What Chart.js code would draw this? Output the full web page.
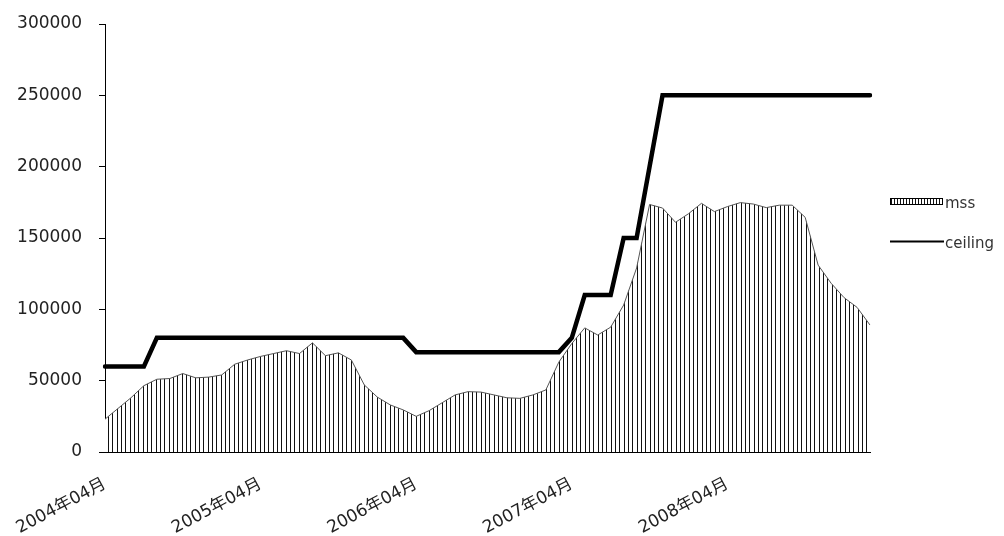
<!DOCTYPE html>
<html>
<head>
<meta charset="utf-8">
<script src="https://cdn.jsdelivr.net/npm/chart.js@4.4.1/dist/chart.umd.min.js"></script>
<style>
  html, body { margin: 0; padding: 0; background: #fff; }
  #wrap { width: 1004px; height: 536px; position: relative; }
</style>
</head>
<body>
<div id="wrap"><canvas id="c" width="1004" height="536"></canvas></div>
<script>
// Monthly categories, April 2004 through March 2009
const months = [];
for (let y = 2004, m = 4; months.length < 60; m++) {
  if (m > 12) { m = 1; y++; }
  months.push(y + '年' + String(m).padStart(2, '0') + '月');
}

// Labels shown on the x axis (one per year)
const yearLabels = ['2004年04月', '2005年04月', '2006年04月', '2007年04月', '2008年04月'];

// Y axis tick values
const yTicks = [0, 50000, 100000, 150000, 200000, 250000, 300000];

// mss series (monthly)
const mss = [
  23000, 30500, 38000, 46500, 51000, 51500, 55000, 52000, 52500, 54000,
  61500, 64500, 67000, 69000, 71000, 69000, 76500, 67500, 69500, 64500,
  47000, 38500, 33000, 29500, 25000, 29000, 34500, 40000, 42300, 42000,
  40000, 38000, 37600, 40000, 43500, 63000, 76000, 87000, 82000, 87500,
  103000, 129000, 173500, 171000, 161000, 167000, 174300, 168500, 172000, 174800,
  173800, 171300, 173000, 173000, 164500, 131000, 118300, 108200, 101400, 89000
];

// ceiling series (monthly)
const ceiling = [
  60000, 60000, 60000, 60000, 80000, 80000, 80000, 80000, 80000, 80000,
  80000, 80000, 80000, 80000, 80000, 80000, 80000, 80000, 80000, 80000,
  80000, 80000, 80000, 80000, 70000, 70000, 70000, 70000, 70000, 70000,
  70000, 70000, 70000, 70000, 70000, 70000, 80000, 110000, 110000, 110000,
  150000, 150000, 200000, 250000, 250000, 250000, 250000, 250000, 250000, 250000,
  250000, 250000, 250000, 250000, 250000, 250000, 250000, 250000, 250000, 250000
];

const FONT = "'DejaVu Sans', 'Noto Sans CJK JP', sans-serif";

// Vertical-line hatch used for the area fill
function makeHatch(period, lines) {
  const pc = document.createElement('canvas');
  pc.width = period; pc.height = 4;
  const g = pc.getContext('2d');
  g.fillStyle = '#fff';
  g.fillRect(0, 0, period, 4);
  g.fillStyle = '#111';
  lines.forEach(x => g.fillRect(x, 0, 1, 4));
  return g.createPattern(pc, 'repeat');
}
const ctx = document.getElementById('c').getContext('2d');
const hatch = makeHatch(13, [0, 4, 8]);
const legendHatch = makeHatch(3, [0]);

// Legend drawn at the right of the plot
const sideLegend = {
  id: 'sideLegend',
  afterDraw(chart) {
    const g = chart.ctx;
    g.save();
    // mss swatch
    g.fillStyle = legendHatch;
    g.fillRect(891, 198.5, 52, 6);
    g.strokeStyle = '#000';
    g.lineWidth = 1;
    g.strokeRect(890.5, 198.5, 52, 6);
    // ceiling swatch
    g.beginPath();
    g.moveTo(890, 241.5);
    g.lineTo(944, 241.5);
    g.lineWidth = 2;
    g.stroke();
    g.fillStyle = '#333';
    g.font = '15px ' + FONT;
    g.textBaseline = 'alphabetic';
    g.textAlign = 'left';
    g.fillText('mss', 945, 208);
    g.fillText('ceiling', 945, 248);
    g.restore();
  }
};

new Chart(ctx, {
  type: 'line',
  data: {
    labels: months,
    datasets: [
      {
        label: 'mss',
        data: mss,
        fill: 'origin',
        backgroundColor: hatch,
        borderColor: '#555',
        borderWidth: 1,
        pointRadius: 0,
        tension: 0,
        order: 2
      },
      {
        label: 'ceiling',
        data: ceiling,
        fill: false,
        borderColor: '#000',
        borderWidth: 4.5,
        borderCapStyle: 'round',
        pointRadius: 0,
        tension: 0,
        order: 1
      }
    ]
  },
  options: {
    responsive: false,
    devicePixelRatio: 1,
    animation: false,
    layout: { padding: { left: 0, top: 24, right: 134, bottom: 0 } },
    plugins: {
      legend: { display: false },
      tooltip: { enabled: false }
    },
    scales: {
      x: {
        type: 'category',
        offset: false,
        afterFit(scale) {
          scale.height = 84;
          scale.paddingLeft = 0;
          scale.paddingRight = 0;
        },
        grid: { display: true, drawOnChartArea: false, drawTicks: false },
        border: { display: true, color: '#000', width: 1 },
        ticks: {
          autoSkip: false,
          minRotation: 28,
          maxRotation: 28,
          padding: 22,
          color: '#222',
          font: { family: FONT, size: 17 },
          callback(value) {
            const lab = months[value];
            return yearLabels.includes(lab) ? lab : '';
          }
        }
      },
      y: {
        min: 0,
        max: 300000,
        afterFit(scale) {
          scale.width = 105;
          scale.paddingTop = 0;
          scale.paddingBottom = 0;
        },
        afterBuildTicks(scale) { scale.ticks = yTicks.map(v => ({ value: v })); },
        grid: { display: true, drawOnChartArea: false, drawTicks: true, tickLength: 6, color: '#000' },
        border: { display: true, color: '#000', width: 1 },
        ticks: {
          padding: 17,
          color: '#222',
          font: { family: FONT, size: 17 },
          callback(v) { return String(v); }
        }
      }
    }
  },
  plugins: [sideLegend]
});
</script>
</body>
</html>
